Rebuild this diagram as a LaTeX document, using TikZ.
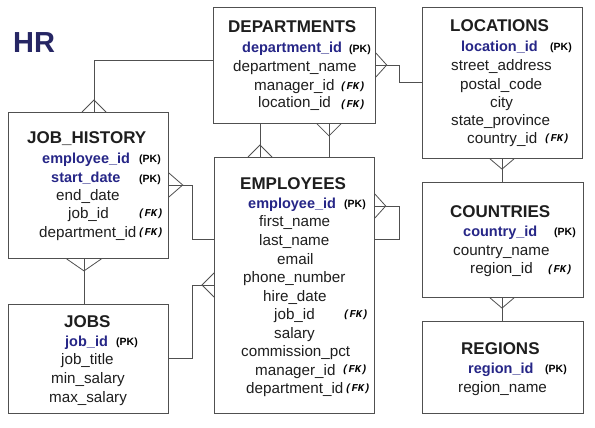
\documentclass[tikz,border=0pt]{standalone}
\usepackage{fontspec}
\setmainfont{Liberation Sans}
\newfontfamily\monofk{Liberation Mono}
\usetikzlibrary{calc}
\definecolor{lc}{RGB}{80,80,80}
\definecolor{pkblue}{RGB}{38,38,135}
\definecolor{hrblue}{RGB}{38,38,100}
\definecolor{txt}{RGB}{30,30,30}
\tikzset{
  box/.style={draw=lc, line width=0.9pt, inner sep=0pt, anchor=north west},
  conn/.style={draw=lc, line width=0.8pt},
  crowfoot/.pic={\draw[conn] (-12,0) -- (0,12) -- (12,0);},
  ttl/.style={anchor=base west, inner sep=0pt, text=txt, font=\fontsize{17}{17}\selectfont\bfseries},
  fld/.style={anchor=base west, inner sep=0pt, text=txt, font=\fontsize{15.2}{15}\selectfont},
  pkf/.style={anchor=base west, inner sep=0pt, text=pkblue, font=\fontsize{14.5}{15}\selectfont\bfseries},
  pk/.style={anchor=base west, inner sep=0pt, text=black, font=\fontsize{10.5}{10}\selectfont\bfseries},
  fk/.style={anchor=base west, inner sep=0pt, text=black, font=\fontsize{10.5}{10}\selectfont\monofk\bfseries\itshape},
}
\begin{document}
\begin{tikzpicture}[x=1pt,y=-1pt]
\useasboundingbox[fill=white] (0,0) rectangle (595,428);
% boxes
\node[box, minimum width=162pt, minimum height=116pt] (dep) at (213,7) {};
\node[box, minimum width=160pt, minimum height=151pt] (loc) at (422,7) {};
\node[box, minimum width=161pt, minimum height=115pt] (cou) at (422,182) {};
\node[box, minimum width=161pt, minimum height=92pt] (reg) at (422,321) {};
\node[box, minimum width=160pt, minimum height=146pt] (jh) at (8,112) {};
\node[box, minimum width=160pt, minimum height=109pt] (jobs) at (8,304) {};
\node[box, minimum width=160pt, minimum height=256pt] (emp) at (214,157) {};
% title
\node[anchor=base west, inner sep=0pt, text=hrblue, font=\fontsize{29}{29}\selectfont\bfseries] (hr) at (13,53) {HR};
% connectors
\draw[conn] ($(dep.north west)+(0,53)$) -| ($(jh.north west)+(86,0)$);
\pic[rotate=180] at ($(jh.north west)+(86,0)$) {crowfoot};
\draw[conn] ($(dep.north east)+(0,58)$) -- ++(23,0) |- ($(loc.north west)+(0,75)$);
\pic[rotate=90, yscale=0.9] at ($(dep.north east)+(0,58)$) {crowfoot};
\draw[conn] ($(dep.south west)+(47,0)$) -- ($(emp.north west)+(46,0)$);
\pic[rotate=180] at ($(emp.north west)+(46,0)$) {crowfoot};
\draw[conn] ($(dep.south west)+(116,0)$) -- ($(emp.north west)+(115,0)$);
\pic at ($(dep.south west)+(116,0)$) {crowfoot};
\draw[conn] ($(emp.north east)+(0,49)$) -- ++(24,0) |- ($(emp.north east)+(0,82)$);
\pic[rotate=90, yscale=0.9] at ($(emp.north east)+(0,49)$) {crowfoot};
\draw[conn] ($(jh.north east)+(0,73)$) -- ++(23,0) |- ($(emp.north west)+(0,82)$);
\pic[rotate=90, yscale=1.15] at ($(jh.north east)+(0,73)$) {crowfoot};
\draw[conn] ($(jh.south west)+(76,0)$) -- ($(jobs.north west)+(76,0)$);
\pic[xscale=1.45] at ($(jh.south west)+(76,0)$) {crowfoot};
\draw[conn] ($(jobs.north east)+(0,54)$) -- ++(23,0) |- ($(emp.north west)+(0,128)$);
\pic[rotate=-90] at ($(emp.north west)+(0,128)$) {crowfoot};
\draw[conn] ($(loc.south west)+(80,0)$) -- ($(cou.north west)+(80,0)$);
\pic[yscale=0.85] at ($(loc.south west)+(80,0)$) {crowfoot};
\draw[conn] ($(cou.south west)+(80,0)$) -- ($(reg.north west)+(80,0)$);
\pic[yscale=0.85] at ($(cou.south west)+(80,0)$) {crowfoot};
% DEPARTMENTS
\node[ttl] (d0) at (228,33) {DEPARTMENTS};
\node[pkf] (d1) at (242,53) {department\_id};
\node[pk]  (d1k) at (349,53) {(PK)};
\node[fld] (d2) at (233,72) {department\_name};
\node[fld] (d3) at (254,91) {manager\_id};
\node[fk]  (d3k) at (340,89) {(FK)};
\node[fld] (d4) at (258,108) {location\_id};
\node[fk]  (d4k) at (340,107) {(FK)};
% LOCATIONS
\node[ttl] (l0) at (450,32) {LOCATIONS};
\node[pkf] (l1) at (461,52) {location\_id};
\node[pk]  (l1k) at (550,51) {(PK)};
\node[fld] (l2) at (451,71) {street\_address};
\node[fld] (l3) at (460,89) {postal\_code};
\node[fld] (l4) at (490,107) {city};
\node[fld] (l5) at (451,125) {state\_province};
\node[fld] (l6) at (467,143) {country\_id};
\node[fk]  (l6k) at (544,142) {(FK)};
% JOB_HISTORY
\node[ttl] (h0) at (27,143) {JOB\_HISTORY};
\node[pkf] (h1) at (42,163) {employee\_id};
\node[pk]  (h1k) at (139,162) {(PK)};
\node[pkf] (h2) at (51,182) {start\_date};
\node[pk]  (h2k) at (139,182) {(PK)};
\node[fld] (h3) at (56,200) {end\_date};
\node[fld] (h4) at (68,218) {job\_id};
\node[fk]  (h4k) at (138,216) {(FK)};
\node[fld] (h5) at (39,237) {department\_id};
\node[fk]  (h5k) at (138,235) {(FK)};
% EMPLOYEES
\node[ttl] (e0) at (240,189) {EMPLOYEES};
\node[pkf] (e1) at (248,208) {employee\_id};
\node[pk]  (e1k) at (344,207) {(PK)};
\node[fld] (e2) at (259,226) {first\_name};
\node[fld] (e3) at (259,245) {last\_name};
\node[fld] (e4) at (277,264) {email};
\node[fld] (e5) at (243,282) {phone\_number};
\node[fld] (e6) at (263,301) {hire\_date};
\node[fld] (e7) at (274,319) {job\_id};
\node[fk]  (e7k) at (343,317) {(FK)};
\node[fld] (e8) at (274,338) {salary};
\node[fld] (e9) at (241,356) {commission\_pct};
\node[fld] (e10) at (255,375) {manager\_id};
\node[fk]  (e10k) at (342,372) {(FK)};
\node[fld] (e11) at (246,393) {department\_id};
\node[fk]  (e11k) at (345,391) {(FK)};
% JOBS
\node[ttl] (j0) at (64,327) {JOBS};
\node[pkf] (j1) at (65,346) {job\_id};
\node[pk]  (j1k) at (116,345) {(PK)};
\node[fld] (j2) at (61,364) {job\_title};
\node[fld] (j3) at (51,383) {min\_salary};
\node[fld] (j4) at (49,402) {max\_salary};
% COUNTRIES
\node[ttl] (c0) at (450,217) {COUNTRIES};
\node[pkf] (c1) at (463,236) {country\_id};
\node[pk]  (c1k) at (554,235) {(PK)};
\node[fld] (c2) at (453,255) {country\_name};
\node[fld] (c3) at (470,273) {region\_id};
\node[fk]  (c3k) at (547,272) {(FK)};
% REGIONS
\node[ttl] (r0) at (461,354) {REGIONS};
\node[pkf] (r1) at (468,373) {region\_id};
\node[pk]  (r1k) at (545,372) {(PK)};
\node[fld] (r2) at (458,392) {region\_name};
\end{tikzpicture}
\end{document}
